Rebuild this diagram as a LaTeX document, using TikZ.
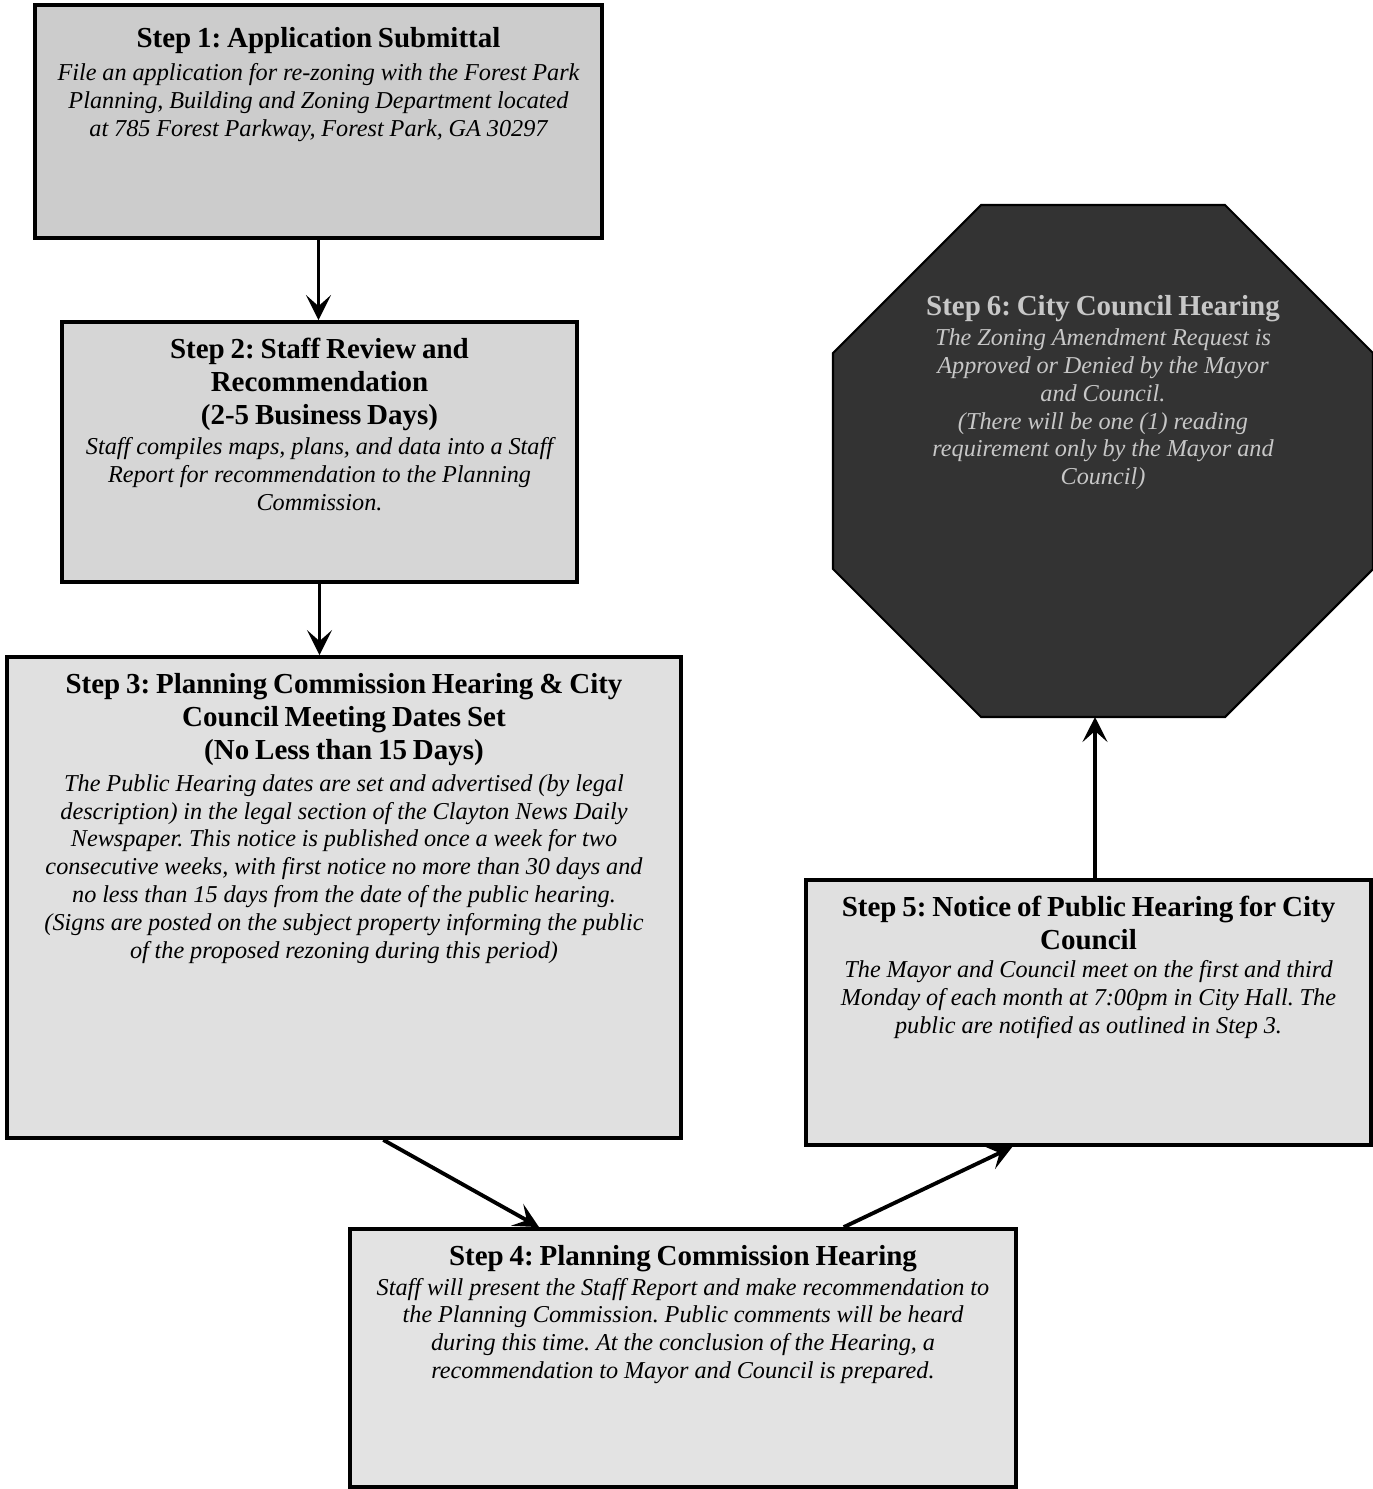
\documentclass[tikz,border=0pt]{standalone}
\usepackage{fontspec}
\setmainfont{Liberation Serif}
\frenchspacing
\usetikzlibrary{positioning,calc,arrows.meta}
\newcommand{\steptitle}{\fontsize{16.5}{18.7}\selectfont\bfseries}
\newcommand{\stepbody}{\fontsize{13.8}{15.8}\selectfont\itshape}

\begin{document}
\begin{tikzpicture}[x=0.02cm, y=-0.02cm,
    stepbox/.style={draw, rectangle, line width=2.2pt, inner sep=0pt},
    steptext/.style={anchor=north, align=center, inner sep=0pt, yshift=-0.36cm},
    link/.style={line width=2.2pt, -{Stealth[length=0.5cm, width=0.5cm, inset=0.22cm]}}
]
    \useasboundingbox (0,0) rectangle (1373,1489);

    % boxes
    \node [stepbox, fill=gray!40, minimum width=11.34cm, minimum height=4.66cm] (s1) at (318.5,121.5) {};
    \node [stepbox, fill=gray!32, minimum width=10.3cm, minimum height=5.2cm] (s2) at (319.5,452) {};
    \node [stepbox, fill=gray!24, minimum width=13.48cm, minimum height=9.62cm] (s3) at (344,897.5) {};
    \node [stepbox, fill=gray!22, minimum width=13.32cm, minimum height=5.16cm] (s4) at (683,1358) {};
    \node [stepbox, fill=gray!24, minimum width=11.3cm, minimum height=5.3cm] (s5) at (1088.5,1012.5) {};

    % octagon
    \draw [line width=1.2pt, fill=black!80] (981,205) -- (1225,205) -- (1373,353) -- (1373,569)
        -- (1225,717) -- (981,717) -- (833,569) -- (833,353) -- cycle;
    \coordinate (s6bottom) at (1095,717);

    % texts
    \node [steptext, yshift=-0.12cm, text width=11cm] (t1) at (s1.north) {{\steptitle Step 1: Application Submittal\par}\vspace{3pt}
        \stepbody File an application for re-zoning with the Forest Park\\
        Planning, Building and Zoning Department located\\
        at 785 Forest Parkway, Forest Park, GA 30297\par};
    \node [steptext, text width=10cm] (t2) at (s2.north) {{\steptitle Step 2: Staff Review and\\ Recommendation\\ (2-5 Business Days)\par}\vspace{1.5pt}
        \stepbody Staff compiles maps, plans, and data into a Staff\\
        Report for recommendation to the Planning\\
        Commission.\par};
    \node [steptext, text width=13.2cm] (t3) at (s3.north) {{\steptitle Step 3: Planning Commission Hearing \& City\\ Council Meeting Dates Set\\ (No Less than 15 Days)\par}\vspace{2.5pt}
        \stepbody The Public Hearing dates are set and advertised (by legal\\
        description) in the legal section of the Clayton News Daily\\
        Newspaper. This notice is published once a week for two\\
        consecutive weeks, with first notice no more than 30 days and\\
        no less than 15 days from the date of the public hearing.\\
        (Signs are posted on the subject property informing the public\\
        of the proposed rezoning during this period)\par};
    \node [steptext, text width=13cm] (t4) at (s4.north) {{\steptitle Step 4: Planning Commission Hearing\par}\vspace{1pt}
        \stepbody Staff will present the Staff Report and make recommendation to\\
        the Planning Commission. Public comments will be heard\\
        during this time. At the conclusion of the Hearing, a\\
        recommendation to Mayor and Council is prepared.\par};
    \node [steptext, text width=11cm] (t5) at (s5.north) {{\steptitle Step 5: Notice of Public Hearing for City\\ Council\par}
        \stepbody The Mayor and Council meet on the first and third\\
        Monday of each month at 7:00pm in City Hall. The\\
        public are notified as outlined in Step 3.\par};
    \node [anchor=north, align=center, inner sep=0pt, text width=10cm, text=white!78!black] (s6) at (1103,295)
        {{\steptitle Step 6: City Council Hearing\par}\vspace{1.5pt}
        \stepbody The Zoning Amendment Request is\\
        Approved or Denied by the Mayor\\
        and Council.\\
        (There will be one (1) reading\\
        requirement only by the Mayor and\\
        Council)\par};

    % arrows
    \draw [link] (s1.south) -- (s1.south |- s2.north);
    \draw [link] (s2.south) -- (s2.south |- s3.north);
    \draw [link] ($(s3.south west)!0.558!(s3.south east)$) -- ($(s4.north west)!0.285!(s4.north east)$);
    \draw [link] ($(s4.north west)!0.74!(s4.north east)$) -- ($(s5.south west)!0.366!(s5.south east)$);
    \draw [link] (s6bottom |- s5.north) -- (s6bottom);
\end{tikzpicture}
\end{document}
